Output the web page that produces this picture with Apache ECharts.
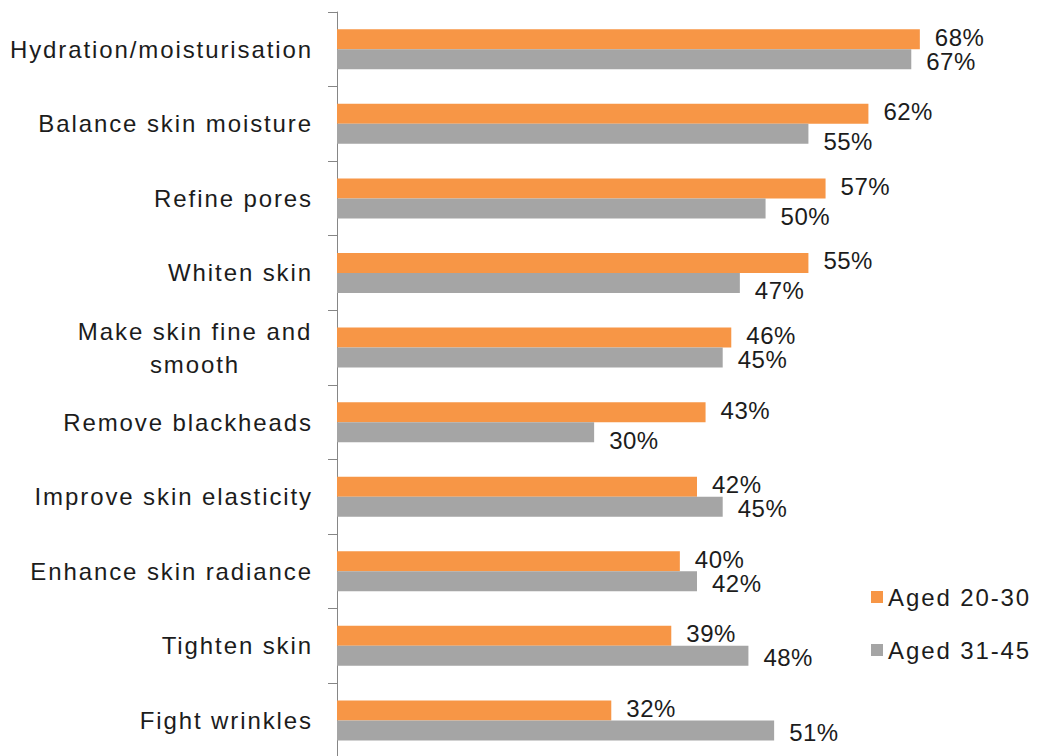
<!DOCTYPE html>
<html>
<head>
<meta charset="utf-8">
<script src="https://cdn.jsdelivr.net/npm/echarts@6/dist/echarts.min.js"></script>
<style>
  html, body { margin: 0; padding: 0; background: #ffffff; }
  #chart { width: 1039px; height: 756px; }
</style>
</head>
<body>
<div id="chart"></div>
<script>
// Skincare benefits sought, by age group (% of respondents)
const categories = [
  'Hydration/moisturisation',
  'Balance skin moisture',
  'Refine pores',
  'Whiten skin',
  'Make skin fine and\nsmooth',
  'Remove blackheads',
  'Improve skin elasticity',
  'Enhance skin radiance',
  'Tighten skin',
  'Fight wrinkles'
];
const seriesNames = ['Aged 20-30', 'Aged 31-45'];
const aged20to30 = [68, 62, 57, 55, 46, 43, 42, 40, 39, 32];
const aged31to45 = [67, 55, 50, 47, 45, 30, 45, 42, 48, 51];

const FONT = "'Liberation Sans', Arial, Helvetica, sans-serif";
const TEXT = '#1c1c1c';
const AXIS = '#868686';

const chart = echarts.init(document.getElementById('chart'), null, { renderer: 'svg' });

function valueLabel(dy) {
  return {
    show: true,
    position: 'right',
    distance: 15,
    offset: [0, dy],
    formatter: '{c}%',
    fontFamily: FONT,
    fontSize: 24,
    lineHeight: 19,
    color: TEXT
  };
}

chart.setOption({
  animation: false,
  backgroundColor: '#ffffff',
  textStyle: { fontFamily: FONT },
  grid: {
    left: 337,
    top: 12,
    width: 685.7,
    height: 745.7,
    containLabel: false,
    outerBoundsMode: 'none'
  },
  legend: {
    data: seriesNames,
    orient: 'vertical',
    left: 871,
    top: 585,
    padding: 0,
    icon: 'rect',
    itemWidth: 12,
    itemHeight: 12,
    itemGap: 29,
    textStyle: { fontFamily: FONT, fontSize: 24, color: TEXT, lineHeight: 24 }
  },
  xAxis: {
    type: 'value',
    min: 0,
    max: 80,
    show: false,
    splitLine: { show: false }
  },
  yAxis: {
    type: 'category',
    inverse: true,
    data: categories,
    axisLine: { show: true, lineStyle: { color: AXIS, width: 1 } },
    axisTick: { show: true, length: 9, lineStyle: { color: AXIS, width: 1 } },
    axisLabel: {
      margin: 24,
      fontFamily: FONT,
      fontSize: 24,
      color: TEXT,
      interval: 0,
      formatter: function (v) {
        if (v.indexOf('\n') < 0) return v;
        return v.split('\n').map(function (s) { return '{c|' + s + '}'; }).join('\n');
      },
      rich: {
        c: { fontFamily: FONT, fontSize: 24, color: TEXT, width: 236, align: 'center', lineHeight: 33 }
      }
    },
    splitLine: { show: false }
  },
  series: [
    {
      name: seriesNames[0],
      type: 'bar',
      barWidth: 20,
      barGap: '0%',
      itemStyle: { color: '#F79646' },
      label: valueLabel(-2),
      data: aged20to30
    },
    {
      name: seriesNames[1],
      type: 'bar',
      barWidth: 20,
      barGap: '0%',
      itemStyle: { color: '#A5A5A5' },
      label: valueLabel(2),
      // labels drop a little further when the younger group's bar is clearly longer
      data: aged31to45.map(function (v, i) {
        return { value: v, label: { offset: [0, aged20to30[i] - v >= 5 ? 8 : 2] } };
      })
    }
  ]
});

// Category and legend text is set with wider tracking than the value labels
function applyTracking() {
  const nodes = document.querySelectorAll('#chart text');
  nodes.forEach(function (t) {
    const s = t.textContent || '';
    t.style.letterSpacing = s.indexOf('%') >= 0 ? '0.5px' : '1.9px';
  });
}
applyTracking();
chart.on('finished', applyTracking);
</script>
</body>
</html>
